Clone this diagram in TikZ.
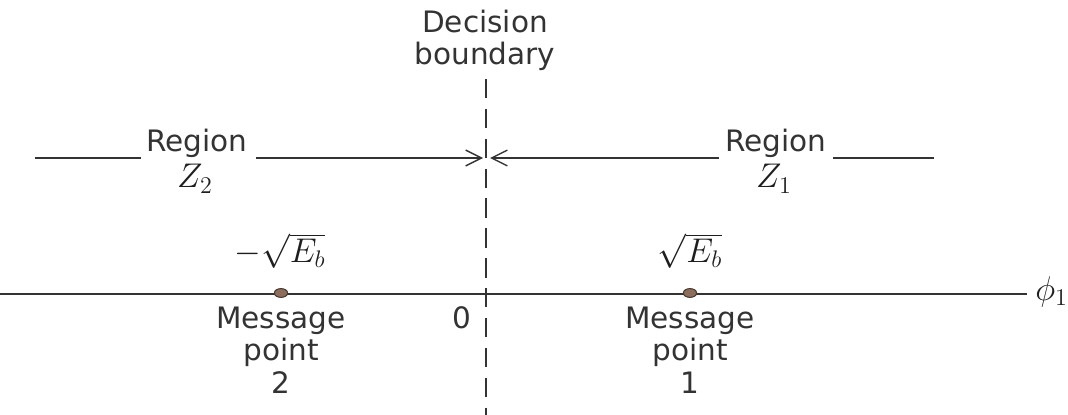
\documentclass[tikz,border=0pt]{standalone}
\usepackage{fontspec}
\usepackage{fix-cm}
\setmainfont{DejaVu Sans}
\usetikzlibrary{arrows.meta,shapes.geometric}
\definecolor{ink}{HTML}{333333}
\definecolor{mink}{HTML}{1E1E1E}
\definecolor{dotfill}{HTML}{8C6E5E}
\definecolor{dotline}{HTML}{4A3A30}
\begin{document}
\begin{tikzpicture}[x=0.02cm,y=-0.02cm,
  txt/.style={anchor=base,inner sep=0pt,text=ink,font=\fontsize{16.8}{19}\selectfont},
  mtxt/.style={anchor=base,inner sep=0pt,text=mink,font=\fontsize{19.5}{22}\selectfont},
  thin line/.style={draw=ink,line width=0.8pt},
  arr/.style={thin line,-{Straight Barb[length=9pt,width=9pt,line width=0.8pt]}},
  bound/.style={draw=ink,line width=1.3pt,dash pattern=on 11pt off 6pt},
  msgpt/.style={ellipse,draw=dotline,fill=dotfill,line width=0.6pt,minimum width=7.5pt,minimum height=5pt,inner sep=0pt}]
\useasboundingbox (0,0) rectangle (1068,415);
\clip (0,0) rectangle (1068,415);
% decision boundary
\node[txt] (dec1) at (485,33) {Decision};
\node[txt] (dec2) at (485,65) {boundary};
\coordinate (btop) at (486,79);
\coordinate (bbot) at (486,420);
\draw[bound] (btop) -- (bbot);
% regions
\node[txt] (reg2) at (197,152) {Region};
\node[mtxt] (z2) at (195,188) {$Z_2$};
\node[txt] (reg1) at (776,152) {Region};
\node[mtxt] (z1) at (774,188) {$Z_1$};
\coordinate (l2a) at (35,158);
\coordinate (l2b) at (141,158);
\coordinate (a2s) at (256,158);
\coordinate (a2e) at (483,158);
\coordinate (a1s) at (719,158);
\coordinate (a1e) at (490,158);
\coordinate (l1a) at (833,158);
\coordinate (l1b) at (934,158);
\draw[thin line] (l2a) -- (l2b);
\draw[arr] (a2s) -- (a2e);
\draw[arr] (a1s) -- (a1e);
\draw[thin line] (l1a) -- (l1b);
% axis
\coordinate (ax0) at (0,294);
\coordinate (ax1) at (1027,294);
\draw[thin line] (ax0) -- (ax1);
\node[mtxt,anchor=base west] (phi) at (1035,300) {$\phi_1$};
% points
\node[msgpt] (p2) at (281,293) {};
\node[msgpt] (p1) at (690,293) {};
\node[mtxt] (e2) at (280,262) {$-\sqrt{E_b}$};
\node[mtxt] (e1) at (690,262) {$\sqrt{E_b}$};
\node[txt] (m2a) at (281,328) {Message};
\node[txt] (m2b) at (281,360) {point};
\node[txt] (m2c) at (281,393) {2};
\node[txt] (m1a) at (690,328) {Message};
\node[txt] (m1b) at (690,360) {point};
\node[txt] (m1c) at (690,393) {1};
\node[txt] (zero) at (462,328) {0};
\end{tikzpicture}
\end{document}
